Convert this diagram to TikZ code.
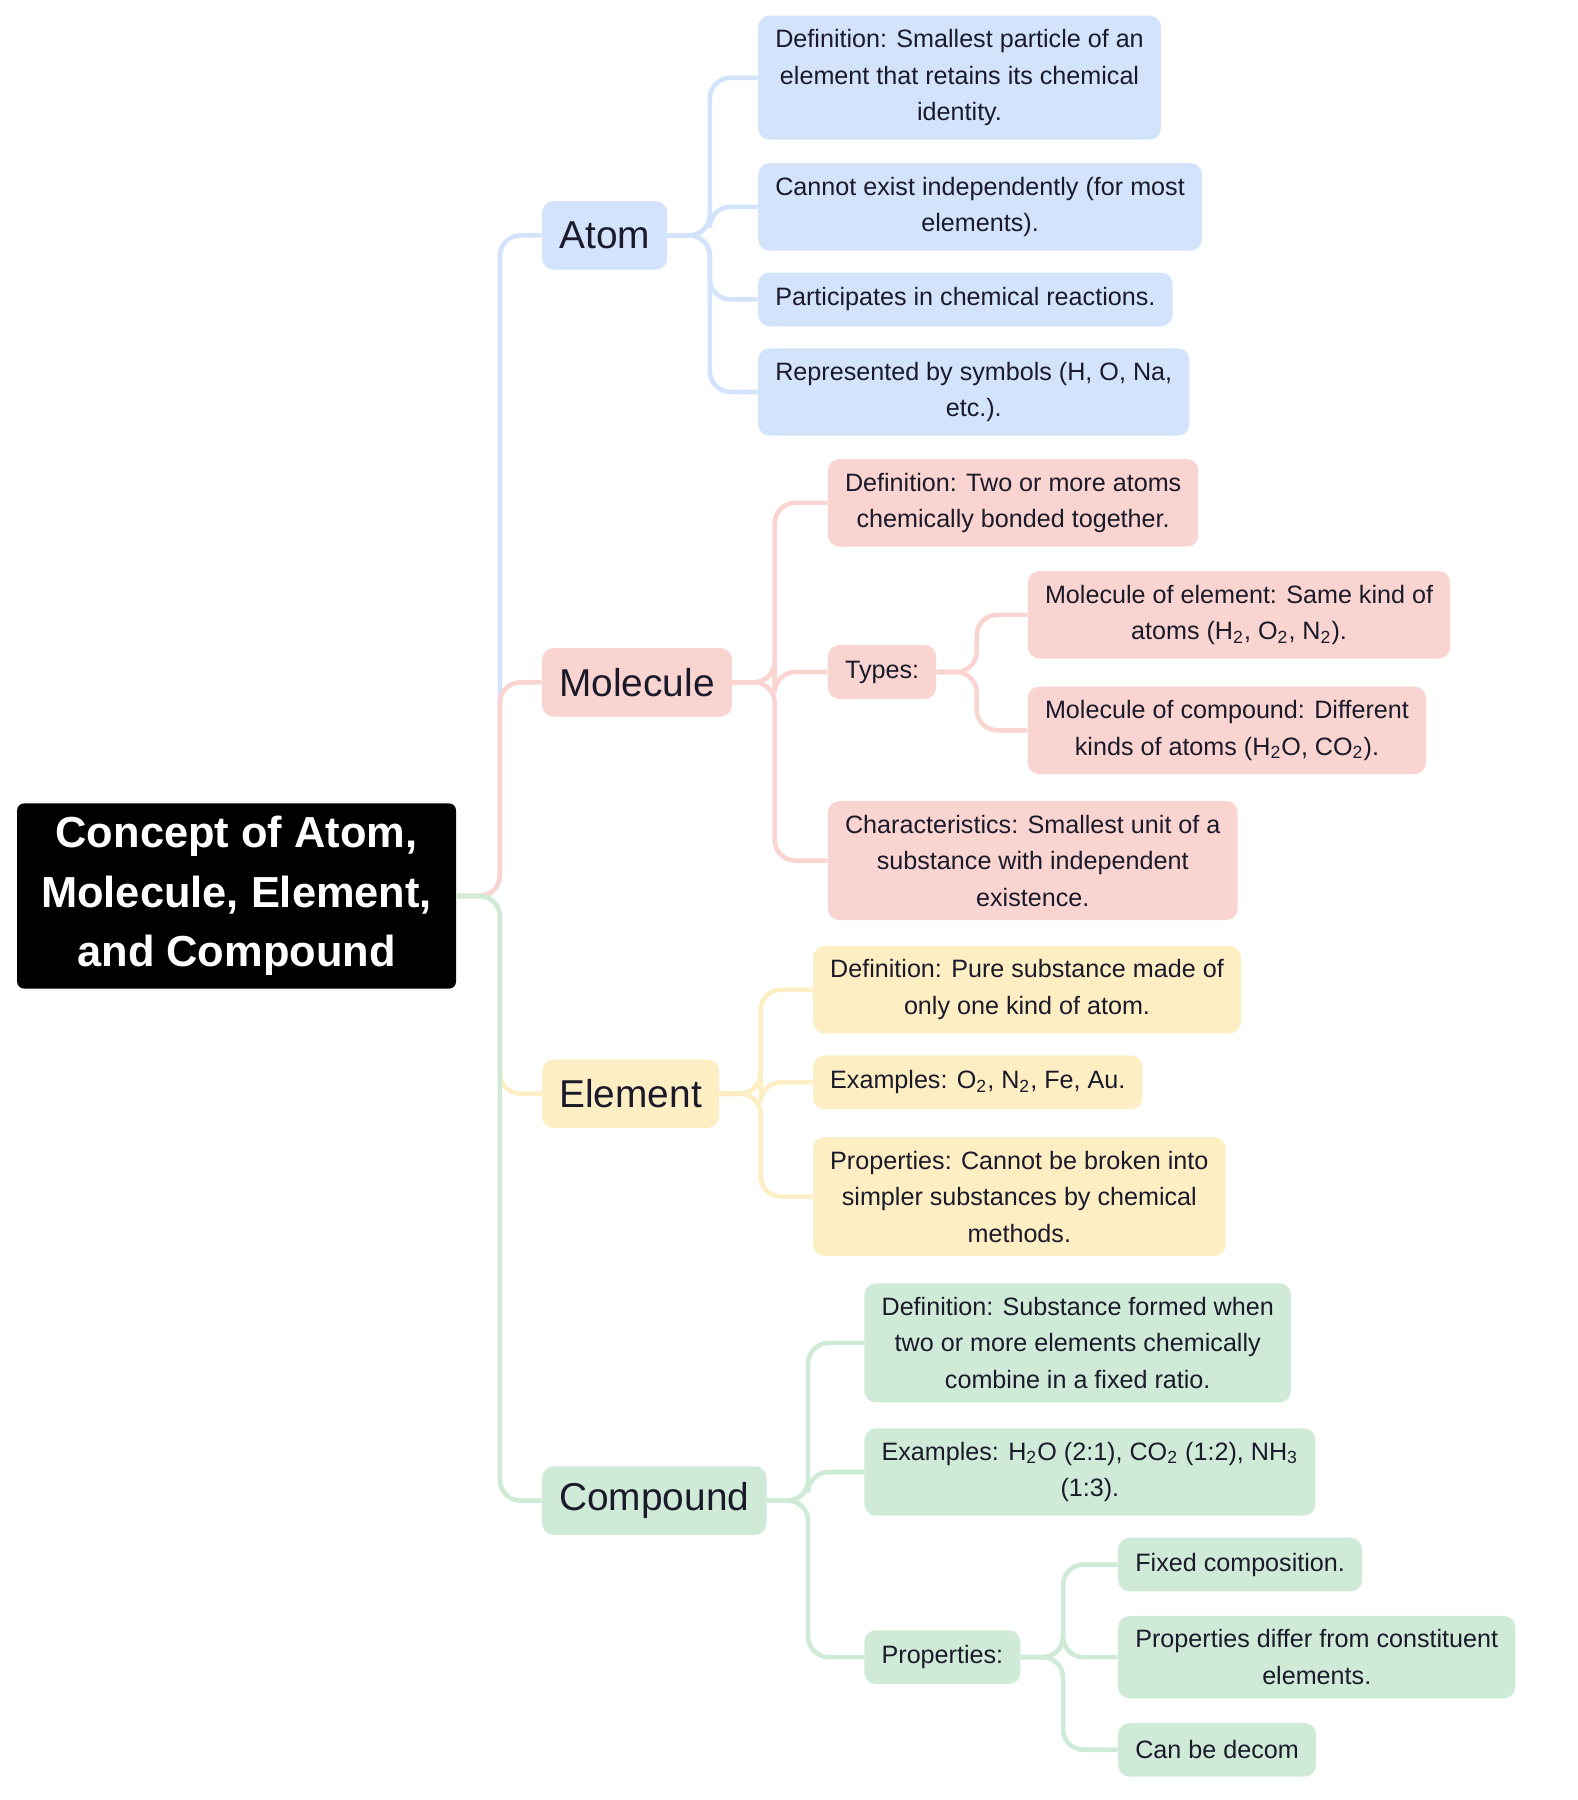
\documentclass[tikz,border=0pt]{standalone}
\usepackage{fontspec}
\setmainfont{Liberation Sans}
\usepackage{tikz}
\usetikzlibrary{calc,positioning}

\definecolor{atomfill}{HTML}{D3E3FB}
\definecolor{molfill}{HTML}{FAD4D0}
\definecolor{elemfill}{HTML}{FEEEC3}
\definecolor{compfill}{HTML}{D0EAD8}
\definecolor{inktext}{HTML}{1A1A2A}

\tikzset{
  leaf/.style={rounded corners=5pt, align=center, anchor=west, font=\fontsize{11}{16}\selectfont,
    text=inktext, inner xsep=7.5pt, inner ysep=6pt, minimum height=23.5pt},
  branch/.style={rounded corners=5pt, anchor=west, font=\fontsize{17}{20}\selectfont,
    text=inktext, inner xsep=7.5pt, minimum height=30pt},
  conn/.style={line width=2pt, rounded corners=9pt}
}

\newcommand{\conn}[4]{\draw[conn, #4] (#1.east) -- ++(#3,0) |- (#2.west);}

\begin{document}
\begin{tikzpicture}[x=0.5pt, y=-0.5pt]

% Canvas
\useasboundingbox (0,0) rectangle (1380,1575);

% Root
\node[fill=black, text=white, rounded corners=3pt, align=center, minimum width=192pt, minimum height=81pt,
  font=\bfseries\fontsize{19}{26}\selectfont] (root) at (207,784)
  {Concept of Atom,\\ Molecule, Element,\\ and Compound};

% Branches
\node[branch, fill=atomfill] (atom) at (474,206) {Atom};
\node[branch, fill=molfill] (mol) at (474,597) {Molecule};
\node[branch, fill=elemfill] (elem) at (474,957) {Element};
\node[branch, fill=compfill] (comp) at (474,1313) {Compound};

% Atom leaves
\node[leaf, fill=atomfill] (a1) at (663,68) {Definition: Smallest particle of an\\ element that retains its chemical\\ identity.};
\node[leaf, fill=atomfill] (a2) at (663,181) {Cannot exist independently (for most\\ elements).};
\node[leaf, fill=atomfill] (a3) at (663,262) {Participates in chemical reactions.};
\node[leaf, fill=atomfill] (a4) at (663,343) {Represented by symbols (H, O, Na,\\ etc.).};

% Molecule leaves
\node[leaf, fill=molfill] (m1) at (724,440) {Definition: Two or more atoms\\ chemically bonded together.};
\node[leaf, fill=molfill] (m2) at (724,588) {Types:};
\node[leaf, fill=molfill] (t1) at (899,538) {Molecule of element: Same kind of\\ atoms (H\textsubscript{2}, O\textsubscript{2}, N\textsubscript{2}).};
\node[leaf, fill=molfill] (t2) at (899,639) {Molecule of compound: Different\\ kinds of atoms (H\textsubscript{2}O, CO\textsubscript{2}).};
\node[leaf, fill=molfill] (m3) at (724,753) {Characteristics: Smallest unit of a\\ substance with independent\\ existence.};

% Element leaves
\node[leaf, fill=elemfill] (e1) at (711,866) {Definition: Pure substance made of\\ only one kind of atom.};
\node[leaf, fill=elemfill] (e2) at (711,947) {Examples: O\textsubscript{2}, N\textsubscript{2}, Fe, Au.};
\node[leaf, fill=elemfill] (e3) at (711,1047) {Properties: Cannot be broken into\\ simpler substances by chemical\\ methods.};

% Compound leaves
\node[leaf, fill=compfill] (c1) at (756,1175) {Definition: Substance formed when\\ two or more elements chemically\\ combine in a fixed ratio.};
\node[leaf, fill=compfill] (c2) at (756,1288) {Examples: H\textsubscript{2}O (2:1), CO\textsubscript{2} (1:2), NH\textsubscript{3}\\ (1:3).};
\node[leaf, fill=compfill] (c3) at (756,1450) {Properties:};
\node[leaf, fill=compfill] (p1) at (978,1369) {Fixed composition.};
\node[leaf, fill=compfill] (p2) at (978,1450) {Properties differ from constituent\\ elements.};
\node[leaf, fill=compfill] (p3) at (978,1531) {Can be decom};

% Connectors
\begin{scope}[on background layer/.style={}]
\conn{root}{atom}{38}{atomfill}
\conn{root}{mol}{38}{molfill}
\conn{root}{elem}{38}{elemfill}
\conn{root}{comp}{38}{compfill}
\foreach \c in {a1,a2,a3,a4} {\conn{atom}{\c}{37}{atomfill}}
\foreach \c in {m1,m2,m3} {\conn{mol}{\c}{37}{molfill}}
\foreach \c in {t1,t2} {\conn{m2}{\c}{35}{molfill}}
\foreach \c in {e1,e2,e3} {\conn{elem}{\c}{36}{elemfill}}
\foreach \c in {c1,c2,c3} {\conn{comp}{\c}{36}{compfill}}
\foreach \c in {p1,p2,p3} {\conn{c3}{\c}{37}{compfill}}
\end{scope}

\end{tikzpicture}
\end{document}
